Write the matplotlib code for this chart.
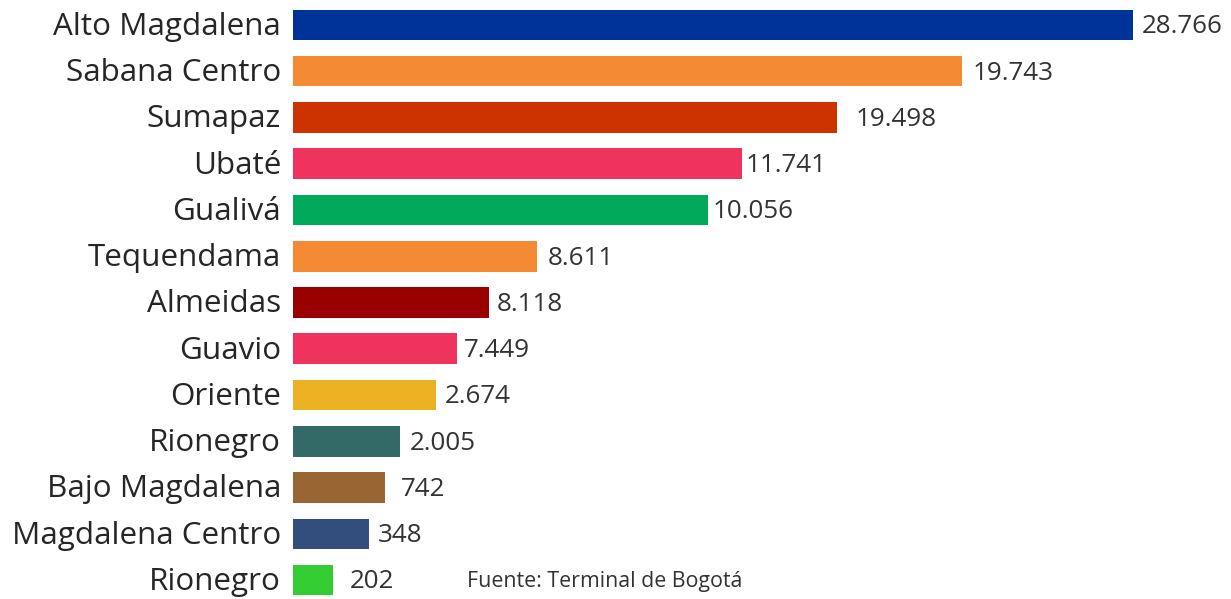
import matplotlib.pyplot as plt

# Datos: provincias, valores mostrados y largo dibujado de cada barra
provincias = ['Alto Magdalena', 'Sabana Centro', 'Sumapaz', 'Ubaté', 'Gualivá',
              'Tequendama', 'Almeidas', 'Guavio', 'Oriente', 'Rionegro',
              'Bajo Magdalena', 'Magdalena Centro', 'Rionegro']
valores = ['28.766', '19.743', '19.498', '11.741', '10.056', '8.611', '8.118',
           '7.449', '2.674', '2.005', '742', '348', '202']
largo_barra = [840, 669, 544, 449, 415, 244, 196, 164, 143, 107, 92, 76, 40]
colores = ['#00339A', '#F58A35', '#CC3300', '#F0325E', '#00AA5A', '#F58A35',
           '#990000', '#F0325E', '#EBB324', '#336966', '#996633', '#334D7D', '#33CC33']
fuente = 'Fuente: Terminal de Bogotá'

# separacion entre barra y etiqueta (estilo)
pad = [9, 11, 19, 4, 5, 11, 8, 7, 9, 10, 16, 9, 17]

plt.rcParams['font.family'] = ['Open Sans', 'DejaVu Sans']

fig = plt.figure(figsize=(12.31, 5.99), dpi=100)
ax = fig.add_axes([293 / 1231, 0, 938 / 1231, 1])

y = list(range(len(provincias)))
ax.barh(y, largo_barra, height=0.66, color=colores)

for i in y:
    ax.text(largo_barra[i] + pad[i], i + 0.04, valores[i], va='center', ha='left',
            fontsize=18.7, color='#333333')
    ax.text(-12, i + 0.04, provincias[i], va='center', ha='right',
            fontsize=22.6, color='#262626')

ax.text(174, 12.04, fuente, va='center', ha='left', fontsize=15.4, color='#333333')

ax.set_xlim(0, 938)
ax.set_ylim(12.41, -0.54)
ax.axis('off')

fig.savefig('out.png', dpi=100)
